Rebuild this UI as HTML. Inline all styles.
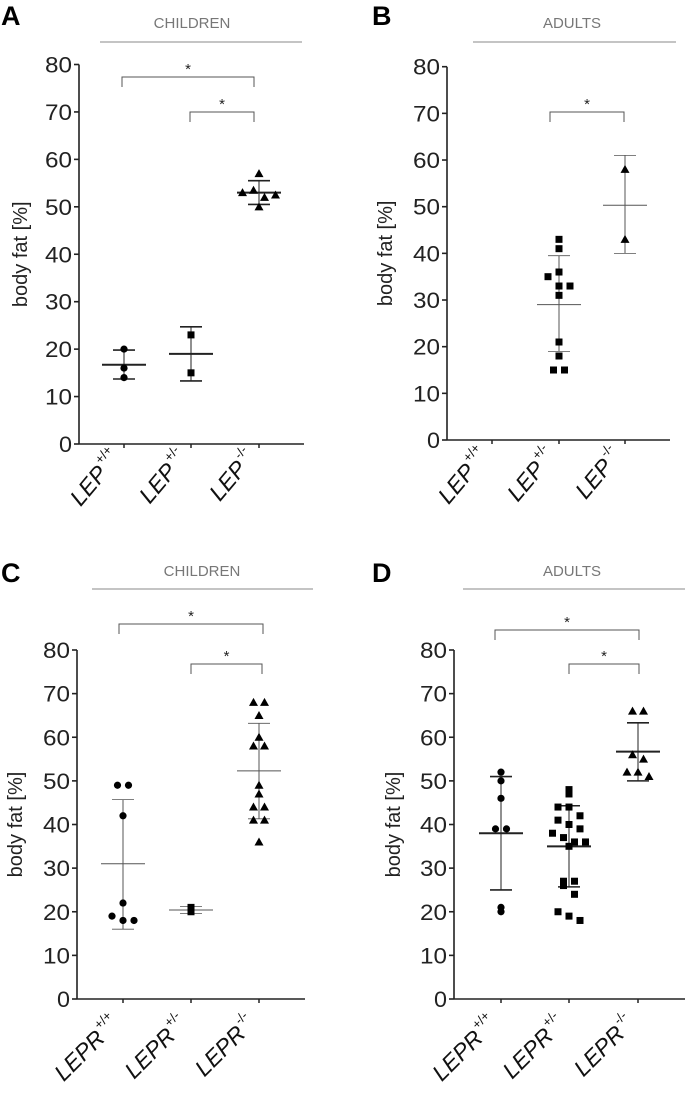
<!DOCTYPE html>
<html><head><meta charset="utf-8">
<style>
html,body{margin:0;padding:0;background:#fff;}
svg{display:block;}
text{font-family:"Liberation Sans",Arial,sans-serif;}
</style></head>
<body>
<svg id="fig" width="685" height="1098" viewBox="0 0 685 1098" xmlns="http://www.w3.org/2000/svg"></svg>
<script>
// ---- data ----
const categoriesLEP = ["LEP", "LEP", "LEP"];
const categoriesLEPR = ["LEPR", "LEPR", "LEPR"];
const genotypeSup = ["+/+", "+/-", "-/-"];
const yTicks = [0, 10, 20, 30, 40, 50, 60, 70, 80];

const aWT = [20, 16, 14];
const aHet = [23, 15];
const aHom = [57, 53, 53.5, 52, 52.5, 50];
const aMean = [16.7, 19, 53];
const aLo = [13.7, 13.3, 50.5];
const aHi = [19.8, 24.7, 55.5];

const bWT = [];
const bHet = [43, 41, 35, 36, 33, 33, 31, 21, 18, 15, 15];
const bHom = [58, 43];
const bMean = [null, 29, 50.3];
const bLo = [null, 19, 40];
const bHi = [null, 39.5, 61];

const cWT = [49, 49, 42, 22, 19, 18, 18];
const cHet = [20, 21];
const cHom = [68, 68, 65, 60, 58, 58, 49, 47, 44, 44, 41, 41, 36];
const cMean = [31, 20.4, 52.3];
const cLo = [16, 19.6, 41.3];
const cHi = [45.7, 21.2, 63.2];

const dWT = [52, 50, 46, 39, 39, 20, 21];
const dHet = [48, 47, 44, 44, 42, 41, 40, 39, 38, 37, 36, 35, 36, 27, 27, 26, 24, 20, 19, 18];
const dHom = [66, 66, 56, 55, 52, 52, 51];
const dMean = [38, 35, 56.7];
const dLo = [25, 25.7, 50];
const dHi = [51, 44.3, 63.3];

const NS = "http://www.w3.org/2000/svg";
const svg = document.getElementById("fig");
function el(tag, attrs, parent) {
  const e = document.createElementNS(NS, tag);
  for (const k in attrs) e.setAttribute(k, attrs[k]);
  (parent || svg).appendChild(e);
  return e;
}

function panel(cfg) {
  const g = el("g", {});
  
  
  const y = v => cfg.y0 + (cfg.y80 - cfg.y0) * v / 80;
  const xc = i => cfg.cx[i];
  const thin = cfg.thin;
  const L = el("text", {x: cfg.lx, y: cfg.ly, "font-size": 27, "font-weight": "bold", fill: "#000"}, g);
  L.textContent = cfg.letter;
  
  
  const T = el("text", {x: cfg.tx, y: cfg.ty, "font-size": 15, fill: "#777", "text-anchor": "middle"}, g);
  T.textContent = cfg.title;
  
  
  const HL = el("line", {x1: cfg.hl[0], x2: cfg.hl[1], y1: cfg.hy, y2: cfg.hy, stroke: "#888", "stroke-width": 1}, g);
  
  
  const ax = el("g", {}, g);
  
  
  el("line", {x1: cfg.ax, x2: cfg.ax, y1: y(80), y2: y(0), stroke: "#222", "stroke-width": 1.6}, ax);
  yTicks.forEach(t => {
    el("line", {x1: cfg.ax - 5, x2: cfg.ax, y1: y(t), y2: y(t), stroke: "#222", "stroke-width": 1.6}, ax);
    const tt = el("text", {x: cfg.ax - 7, y: y(t) + 8, "font-size": 22, "text-anchor": "end", fill: "#222", "textLength": t === 0 ? 13 : 27, "lengthAdjust": "spacingAndGlyphs"}, ax);
    tt.textContent = t;
    
    
  });
  const yt = el("text", {transform: `translate(${cfg.ytx},${(y(0) + y(80)) / 2}) rotate(-90)`, "font-size": 20, "text-anchor": "middle", fill: "#222"}, g);
  yt.textContent = "body fat [%]";
  
  
  const xa = el("g", {}, g);
  
  
  el("line", {x1: cfg.ax, x2: cfg.xend, y1: y(0), y2: y(0), stroke: "#222", "stroke-width": 1.6}, xa);
  cfg.cats.forEach((c, i) => {
    el("line", {x1: xc(i), x2: xc(i), y1: y(0), y2: y(0) + 4, stroke: "#222", "stroke-width": 1.5}, xa);
    const lt = el("text", {transform: `translate(${xc(i) - 2},${y(0) + cfg.labDy}) rotate(${cfg.rot})`, "font-size": 23, "font-style": "italic", "text-anchor": "end", fill: "#111"}, xa);
    const s1 = el("tspan", {}, lt); s1.textContent = c;
    const s2 = el("tspan", {"font-size": 13, dy: -12, dx: 2, "font-style": "normal"}, lt); s2.textContent = genotypeSup[i];
    
    
  });
  cfg.brackets.forEach(b => {
    const bg = el("g", {}, g);
    
    
    el("path", {d: `M${b[0]},${b[2] + 10} V${b[2]} H${b[1]} V${b[2] + 10}`, fill: "none", stroke: "#555", "stroke-width": 1}, bg);
    const st = el("text", {x: (b[0] + b[1]) / 2, y: b[2] - 3, "font-size": 15, "text-anchor": "middle", fill: "#222"}, bg);
    st.textContent = "*";
  });
  const shapes = ["circle", "square", "triangle"];
  cfg.series.forEach((vals, i) => {
    const sg = el("g", {}, g);
    
    
    if (cfg.mean[i] !== null) {
      const col = thin ? "#555" : "#222";
      const w = thin ? 1 : 2;
      el("line", {x1: xc(i), x2: xc(i), y1: y(cfg.hi[i]), y2: y(cfg.lo[i]), stroke: col, "stroke-width": 1}, sg);
      el("line", {x1: xc(i) - 11, x2: xc(i) + 11, y1: y(cfg.hi[i]), y2: y(cfg.hi[i]), stroke: col, "stroke-width": w * 0.8}, sg);
      el("line", {x1: xc(i) - 11, x2: xc(i) + 11, y1: y(cfg.lo[i]), y2: y(cfg.lo[i]), stroke: col, "stroke-width": w * 0.8}, sg);
      const m = el("line", {x1: xc(i) - 22, x2: xc(i) + 22, y1: y(cfg.mean[i]), y2: y(cfg.mean[i]), stroke: col, "stroke-width": w}, sg);
      
    }
    // jitter: spread points whose values lie in the same 3-unit bin
    const bins = {};
    vals.forEach(v => { const k = Math.floor(v / 3); bins[k] = (bins[k] || 0) + 1; });
    const used = {};
    vals.forEach(v => {
      const k = Math.floor(v / 3);
      const n = bins[k]; const j = used[k] || 0; used[k] = j + 1;
      const off = n > 1 ? (j - (n - 1) / 2) * 11 : 0;
      const px = xc(i) + off, py = y(v);
      let p;
      if (shapes[i] === "circle") p = el("circle", {cx: px, cy: py, r: 3.6, fill: "#000"}, sg);
      else if (shapes[i] === "square") p = el("rect", {x: px - 3.5, y: py - 3.5, width: 7, height: 7, fill: "#000"}, sg);
      else p = el("path", {d: `M${px},${py - 4.5} L${px + 4.5},${py + 3.5} L${px - 4.5},${py + 3.5}Z`, fill: "#000"}, sg);
      
      
    });
  });
}

panel({letter: "A", lx: 1, ly: 25, title: "CHILDREN", tx: 192, ty: 28, hl: [100, 302], hy: 42,
  ax: 79, y0: 444, y80: 64.5, xend: 304, cx: [124, 191, 259], ytx: 27, thin: false,
  cats: categoriesLEP, rot: -50, labDy: 14,
  brackets: [[122, 254, 77], [190, 254, 112]],
  series: [aWT, aHet, aHom], mean: aMean, lo: aLo, hi: aHi});
panel({letter: "B", lx: 372, ly: 25, title: "ADULTS", tx: 572, ty: 28, hl: [473, 676], hy: 42,
  ax: 447, y0: 440, y80: 66.7, xend: 670, cx: [492, 559, 625], ytx: 392, thin: true,
  cats: categoriesLEP, rot: -50, labDy: 16,
  brackets: [[550, 624, 112]],
  series: [bWT, bHet, bHom], mean: bMean, lo: bLo, hi: bHi});
panel({letter: "C", lx: 1, ly: 582, title: "CHILDREN", tx: 202, ty: 576, hl: [92, 313], hy: 589,
  ax: 77, y0: 999, y80: 650, xend: 305, cx: [123, 191, 259], ytx: 22, thin: true,
  cats: categoriesLEPR, rot: -45, labDy: 26,
  brackets: [[119, 263, 624], [191, 262, 664]],
  series: [cWT, cHet, cHom], mean: cMean, lo: cLo, hi: cHi});
panel({letter: "D", lx: 372, ly: 582, title: "ADULTS", tx: 572, ty: 576, hl: [463, 685], hy: 589,
  ax: 454, y0: 999, y80: 650, xend: 685, cx: [501, 569, 638], ytx: 400, thin: false,
  cats: categoriesLEPR, rot: -45, labDy: 26,
  brackets: [[495, 639, 630], [569, 639, 664]],
  series: [dWT, dHet, dHom], mean: dMean, lo: dLo, hi: dHi});
</script>
</body></html>
